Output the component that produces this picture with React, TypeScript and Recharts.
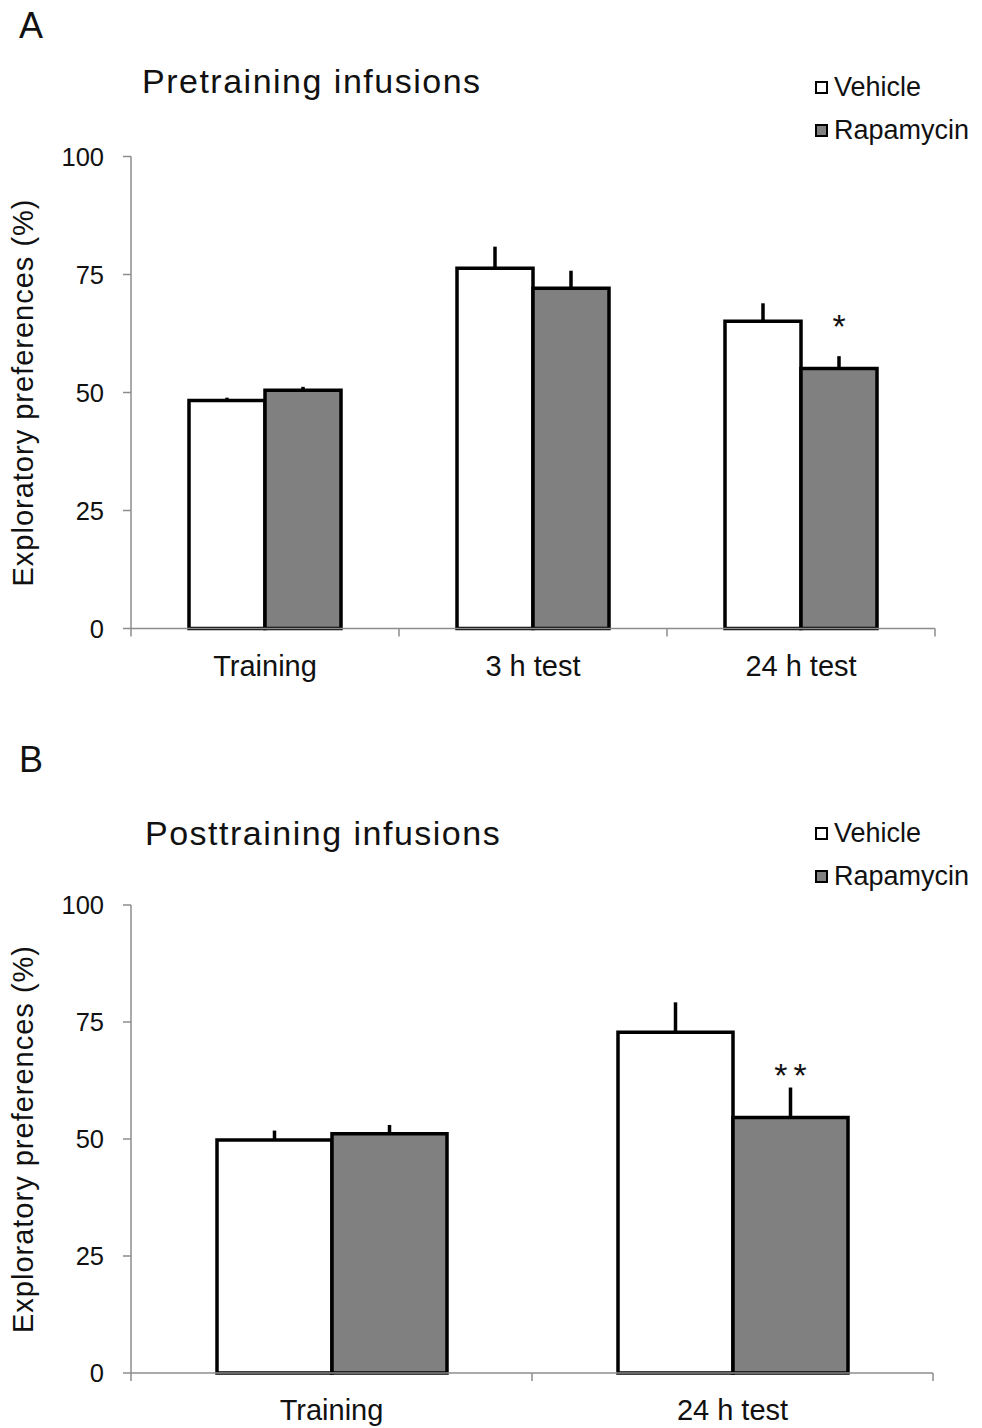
import React from 'react';
import { BarChart, Bar, XAxis, YAxis, ErrorBar, LabelList, Legend } from 'recharts';

// Panel A: pretraining infusions
const categoriesA = ['Training', '3 h test', '24 h test'];
const vehicleA = [48.3, 76.3, 65.1];
const vehicleErrA = [0.6, 4.6, 3.8];
const rapamycinA = [50.5, 72.1, 55.1];
const rapamycinErrA = [0.7, 3.7, 2.6];
const sigA = ['', '', '*'];

// Panel B: posttraining infusions
const categoriesB = ['Training', '24 h test'];
const vehicleB = [49.8, 72.8];
const vehicleErrB = [2.0, 6.4];
const rapamycinB = [51.1, 54.6];
const rapamycinErrB = [1.9, 6.4];
const sigB = ['', '**'];

const yTicks = [0, 25, 50, 75, 100];
const seriesOrder = ['Vehicle', 'Rapamycin'];

const FONT = '"Liberation Sans", Arial, sans-serif';
const AXIS_GREY = '#8c8c8c';

const buildRows = (cats: string[], veh: number[], vehErr: number[], rap: number[], rapErr: number[], sig: string[]) =>
  cats.map((name, i) => ({
    name,
    vehicle: veh[i],
    vehicleErr: [0, vehErr[i]],
    rapamycin: rap[i],
    rapamycinErr: [0, rapErr[i]],
    sig: sig[i],
  }));

const XTick = (props: any) => {
  const { x, y, payload, index, bandWidth, count } = props;
  const i = index ?? payload?.index ?? 0;
  const left = x - bandWidth / 2;
  const right = x + bandWidth / 2;
  return (
    <g>
      <line x1={left} y1={y} x2={left} y2={y + 8} stroke={AXIS_GREY} strokeWidth={1.5} />
      {i === count - 1 && <line x1={right} y1={y} x2={right} y2={y + 8} stroke={AXIS_GREY} strokeWidth={1.5} />}
      <text x={x} y={y + 47} textAnchor="middle" fontSize={29} fill="#111" fontFamily={FONT}>
        {payload.value}
      </text>
    </g>
  );
};

const LegendBox = (props: any) => {
  const items = [...(props.payload || [])].sort(
    (a: any, b: any) => seriesOrder.indexOf(a.value) - seriesOrder.indexOf(b.value)
  );
  return (
    <div style={{ fontFamily: FONT }}>
      {items.map((it: any) => (
        <div key={it.value} style={{ display: 'flex', alignItems: 'center', height: 43 }}>
          <div style={{ width: 9, height: 9, border: '2.5px solid #000', background: it.color, marginRight: 6 }} />
          <span style={{ fontSize: 27, color: '#111' }}>{it.value}</span>
        </div>
      ))}
    </div>
  );
};

const Stars = (props: any) => {
  const { x, y, width, value } = props;
  if (!value) return null;
  return (
    <text x={x + width / 2 + 3} y={y - 30} textAnchor="middle" fontSize={34} letterSpacing={6} fill="#111" fontFamily={FONT}>
      {value}
    </text>
  );
};

const YLabel = (props: any) => {
  const vb = props.viewBox || {};
  const cy = vb.y + vb.height / 2;
  return (
    <text transform={`translate(33, ${cy}) rotate(-90)`} textAnchor="middle" fontSize={29} letterSpacing={1} fill="#111" fontFamily={FONT}>
      Exploratory preferences (%)
    </text>
  );
};

interface PanelProps {
  rows: any[];
  width: number;
  height: number;
  margin: { top: number; right: number; bottom: number; left: number };
  xAxisHeight: number;
  gap: number;
  legendTop: number;
}

const Panel: React.FC<PanelProps> = ({ rows, width, height, margin, xAxisHeight, gap, legendTop }) => {
  const yAxisWidth = 131;
  const plotWidth = width - margin.left - margin.right - yAxisWidth;
  const bandWidth = plotWidth / rows.length;
  return (
    <BarChart width={width} height={height} data={rows} margin={margin} barCategoryGap={gap} barGap={0}>
      <XAxis
        dataKey="name"
        height={xAxisHeight}
        axisLine={{ stroke: AXIS_GREY, strokeWidth: 1.5 }}
        tickLine={false}
        tickSize={0}
        tickMargin={0}
        interval={0}
        tick={(p: any) => <XTick {...p} bandWidth={bandWidth} count={rows.length} />}
      />
      <YAxis
        width={yAxisWidth}
        domain={[0, 100]}
        ticks={yTicks}
        interval={0}
        axisLine={{ stroke: AXIS_GREY, strokeWidth: 1.5 }}
        tickLine={{ stroke: AXIS_GREY, strokeWidth: 1.5 }}
        tickSize={8}
        tickMargin={19}
        tick={{ fontSize: 25.5, fill: '#111', fontFamily: FONT }}
        label={<YLabel />}
      />
      <Legend
        layout="vertical"
        align="center"
        verticalAlign="middle"
        content={<LegendBox />}
        wrapperStyle={{ left: 815, top: legendTop, width: 170 }}
      />
      <Bar dataKey="vehicle" name="Vehicle" fill="#ffffff" stroke="#000" strokeWidth={3.5} isAnimationActive={false}>
        <ErrorBar dataKey="vehicleErr" direction="y" width={0} stroke="#000" strokeWidth={3.5} />
      </Bar>
      <Bar dataKey="rapamycin" name="Rapamycin" fill="#808080" stroke="#000" strokeWidth={3.5} isAnimationActive={false}>
        <ErrorBar dataKey="rapamycinErr" direction="y" width={0} stroke="#000" strokeWidth={3.5} />
        <LabelList dataKey="sig" content={<Stars />} />
      </Bar>
    </BarChart>
  );
};

const textStyle: React.CSSProperties = { position: 'absolute', fontFamily: FONT, lineHeight: 1, color: '#111', whiteSpace: 'nowrap' };

export default function App() {
  const rowsA = buildRows(categoriesA, vehicleA, vehicleErrA, rapamycinA, rapamycinErrA, sigA);
  const rowsB = buildRows(categoriesB, vehicleB, vehicleErrB, rapamycinB, rapamycinErrB, sigB);
  return (
    <div style={{ position: 'absolute', left: 0, top: 0, width: 982, height: 1428, background: '#fff', overflow: 'hidden' }}>
      <div style={{ position: 'absolute', left: 0, top: 0 }}>
        <Panel
          rows={rowsA}
          width={982}
          height={720}
          margin={{ top: 156.5, right: 47, bottom: 31.5, left: 0 }}
          xAxisHeight={60}
          gap={58}
          legendTop={65.5}
        />
      </div>
      <div style={{ position: 'absolute', left: 0, top: 740 }}>
        <Panel
          rows={rowsB}
          width={982}
          height={688}
          margin={{ top: 165, right: 49, bottom: 0, left: 0 }}
          xAxisHeight={55}
          gap={86}
          legendTop={71.5}
        />
      </div>
      <div style={{ ...textStyle, left: 19, top: 7.5, fontSize: 36 }}>A</div>
      <div style={{ ...textStyle, left: 142, top: 64, fontSize: 34, letterSpacing: 1.5 }}>Pretraining infusions</div>
      <div style={{ ...textStyle, left: 19, top: 741.5, fontSize: 36 }}>B</div>
      <div style={{ ...textStyle, left: 145, top: 816, fontSize: 34, letterSpacing: 1.5 }}>Posttraining infusions</div>
    </div>
  );
}
